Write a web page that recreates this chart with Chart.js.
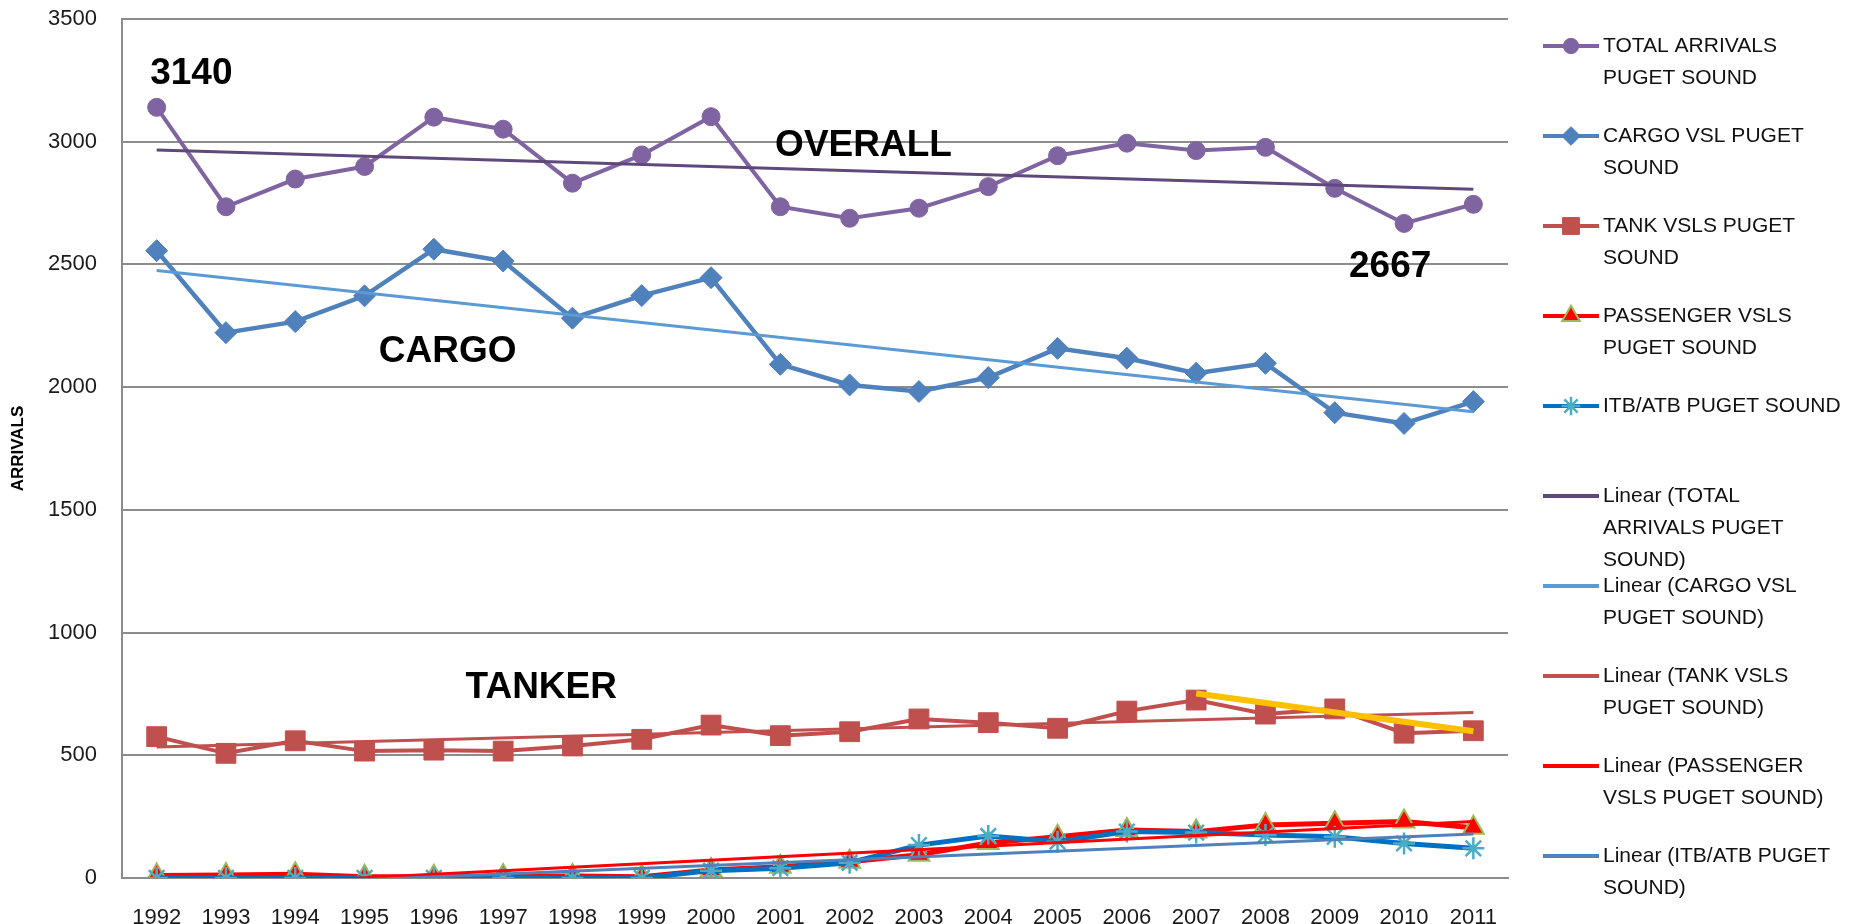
<!DOCTYPE html>
<html>
<head>
<meta charset="utf-8">
<title>Puget Sound arrivals</title>
<script src="https://cdn.jsdelivr.net/npm/chart.js@4.4.1/dist/chart.umd.min.js"></script>
<style>
  html, body { margin:0; padding:0; background:#fff; }
  #chart { display:block; }
</style>
</head>
<body>
<canvas id="chart" width="1858" height="924"></canvas>
<script>
// ----- Data -----
const YEARS = ['1992','1993','1994','1995','1996','1997','1998','1999','2000','2001',
               '2002','2003','2004','2005','2006','2007','2008','2009','2010','2011'];

const TOTAL     = [3140,2735,2848,2899,3100,3051,2831,2946,3102,2735,2688,2729,2817,2943,2994,2964,2977,2810,2667,2745];
const CARGO     = [2556,2222,2267,2372,2562,2514,2281,2373,2446,2093,2009,1982,2039,2158,2118,2057,2097,1896,1852,1941];
const TANK      = [576,508,559,517,521,517,538,565,623,580,596,648,633,610,680,725,668,689,590,600];
const PASSENGER = [10,12,15,5,5,8,8,5,33,46,66,95,143,168,196,189,216,223,230,205];
const ITB       = [0,0,0,0,0,0,0,0,30,40,62,134,171,148,189,185,175,168,141,121];

// linear trend lines: value at 1992 and at 2011
const TREND_TOTAL     = [2966, 2806];
const TREND_CARGO     = [2475, 1900];
const TREND_TANK      = [534, 674];
const TREND_PASSENGER = [-42, 230];
const TREND_ITB       = [-42, 179];

// hand drawn yellow line over the tanker series (2007 -> 2011)
const HIGHLIGHT_YEARS = ['2007','2011'];
const HIGHLIGHT       = [752, 598];

// bold notes on the plot: text, category index, value
const NOTES = [
  ['3140',    0.5, 3276],
  ['OVERALL', 10.2, 2985],
  ['CARGO',   4.2, 2142],
  ['TANKER',  5.55, 775],
  ['2667',   17.8, 2490]
];

// ----- Helpers -----
const FONT = '"Liberation Sans", Arial, sans-serif';
function trend(pair){ return [{x:YEARS[0], y:pair[0]}, {x:YEARS[YEARS.length-1], y:pair[1]}]; }

// ----- Plugins -----
const notesPlugin = {
  id:'notes',
  afterDatasetsDraw(chart){
    const {ctx, scales:{x, y}} = chart;
    ctx.save();
    ctx.font = 'bold 37px ' + FONT;
    ctx.fillStyle = '#000';
    ctx.textAlign = 'center';
    ctx.textBaseline = 'middle';
    for(const [t, i, v] of NOTES) ctx.fillText(t, x.getPixelForValue(i), y.getPixelForValue(v));
    ctx.restore();
  }
};

const sideLegend = {
  id:'sideLegend',
  afterDraw(chart){
    const {ctx, chartArea} = chart;
    const x0 = chartArea.right + 35, top = chartArea.top + 27, step = 90;
    ctx.save();
    ctx.font = '21px ' + FONT;
    ctx.textBaseline = 'middle';
    let k = 0;
    for(const ds of chart.data.datasets){
      if(!ds.legendLines) continue;
      const y = top + k*step;
      ctx.strokeStyle = ds.borderColor;
      ctx.lineWidth = 4;
      ctx.beginPath(); ctx.moveTo(x0, y); ctx.lineTo(x0+56, y); ctx.stroke();
      if(ds.pointRadius > 0){
        const r = ds.pointRadius * 0.85;
        ctx.fillStyle = ds.pointBackgroundColor || ds.borderColor;
        ctx.strokeStyle = ds.pointBorderColor || ds.borderColor;
        ctx.lineWidth = ds.pointBorderWidth || 1;
        Chart.helpers.drawPoint(ctx, {pointStyle:ds.pointStyle, radius:r, borderWidth:ds.pointBorderWidth || 1, rotation:0}, x0+28, y);
      }
      ctx.fillStyle = '#111';
      ds.legendLines.forEach((t, i) => ctx.fillText(t, x0+60, y + i*32));
      k++;
    }
    ctx.restore();
  }
};

// ----- Datasets -----
const datasets = [
  { legendLines:['TOTAL ARRIVALS','PUGET SOUND'], data:TOTAL, order:15,
    borderColor:'#8064A2', backgroundColor:'#8064A2', borderWidth:4,
    pointStyle:'circle', pointRadius:9, pointBackgroundColor:'#8064A2', pointBorderColor:'#8064A2', pointBorderWidth:1 },
  { legendLines:['CARGO VSL PUGET','SOUND'], data:CARGO, order:14,
    borderColor:'#4F81BD', backgroundColor:'#4F81BD', borderWidth:4.5,
    pointStyle:'rectRot', pointRadius:11, pointBackgroundColor:'#4F81BD', pointBorderColor:'#4F81BD', pointBorderWidth:1 },
  { legendLines:['TANK VSLS PUGET','SOUND'], data:TANK, order:13,
    borderColor:'#C0504D', backgroundColor:'#C0504D', borderWidth:4,
    pointStyle:'rect', pointRadius:14, pointBackgroundColor:'#C0504D', pointBorderColor:'#C0504D', pointBorderWidth:1 },
  { legendLines:['PASSENGER VSLS','PUGET SOUND'], data:PASSENGER, order:12,
    borderColor:'#FF0000', backgroundColor:'#FF0000', borderWidth:5,
    pointStyle:'triangle', pointRadius:12, pointBackgroundColor:'#FF0000', pointBorderColor:'#9BBB59', pointBorderWidth:2 },
  { legendLines:['ITB/ATB PUGET SOUND'], data:ITB, order:11,
    borderColor:'#0070C0', backgroundColor:'#0070C0', borderWidth:5,
    pointStyle:'star', pointRadius:11, pointBackgroundColor:'#4BACC6', pointBorderColor:'#4BACC6', pointBorderWidth:2.5 },
  { legendLines:['Linear (TOTAL','ARRIVALS PUGET','SOUND)'], data:trend(TREND_TOTAL), order:5,
    borderColor:'#5F497A', borderWidth:3, pointRadius:0 },
  { legendLines:['Linear (CARGO VSL','PUGET SOUND)'], data:trend(TREND_CARGO), order:4,
    borderColor:'#5B9BD5', borderWidth:3, pointRadius:0 },
  { legendLines:['Linear (TANK VSLS','PUGET SOUND)'], data:trend(TREND_TANK), order:3,
    borderColor:'#C0504D', borderWidth:3, pointRadius:0 },
  { legendLines:['Linear (PASSENGER','VSLS PUGET SOUND)'], data:trend(TREND_PASSENGER), order:2,
    borderColor:'#FF0000', borderWidth:3, pointRadius:0 },
  { legendLines:['Linear (ITB/ATB PUGET','SOUND)'], data:trend(TREND_ITB), order:1,
    borderColor:'#4F81BD', borderWidth:3, pointRadius:0 },
  { data:HIGHLIGHT_YEARS.map((yr, i) => ({x:yr, y:HIGHLIGHT[i]})), order:0,
    borderColor:'#FFC000', borderWidth:6, pointRadius:0 }
];
datasets.forEach(ds => { ds.label = ds.legendLines ? ds.legendLines.join(' ') : 'highlight'; ds.tension = 0; ds.fill = false; });

// ----- Chart -----
Chart.defaults.font.family = FONT;
new Chart(document.getElementById('chart').getContext('2d'), {
  type:'line',
  data:{ labels:YEARS, datasets },
  plugins:[notesPlugin, sideLegend],
  options:{
    responsive:false,
    animation:false,
    devicePixelRatio:1,
    layout:{ padding:{ top:19, right:350, bottom:0, left:0 } },
    plugins:{ legend:{display:false}, tooltip:{enabled:false} },
    scales:{
      x:{
        offset:true,
        grid:{ display:false, drawTicks:false },
        border:{ display:true, color:'#8c8c8c', width:2 },
        ticks:{ font:{size:22}, color:'#1a1a1a', padding:27, maxRotation:0, autoSkip:false },
        afterFit(s){ s.height = 46; s.paddingLeft = 0; s.paddingRight = 0; }
      },
      y:{
        min:0, max:3500,
        grid:{ color:'#8c8c8c', lineWidth:2, drawTicks:false },
        border:{ display:true, color:'#8c8c8c', width:2 },
        ticks:{ stepSize:500, font:{size:22}, color:'#1a1a1a', padding:25, callback:v => String(v) },
        title:{ display:true, text:'ARRIVALS', color:'#000', font:{size:17, weight:'bold'}, padding:{top:8, bottom:0} },
        afterFit(s){ s.width = 122; s.paddingTop = 0; s.paddingBottom = 0; }
      }
    }
  }
});
</script>
</body>
</html>
